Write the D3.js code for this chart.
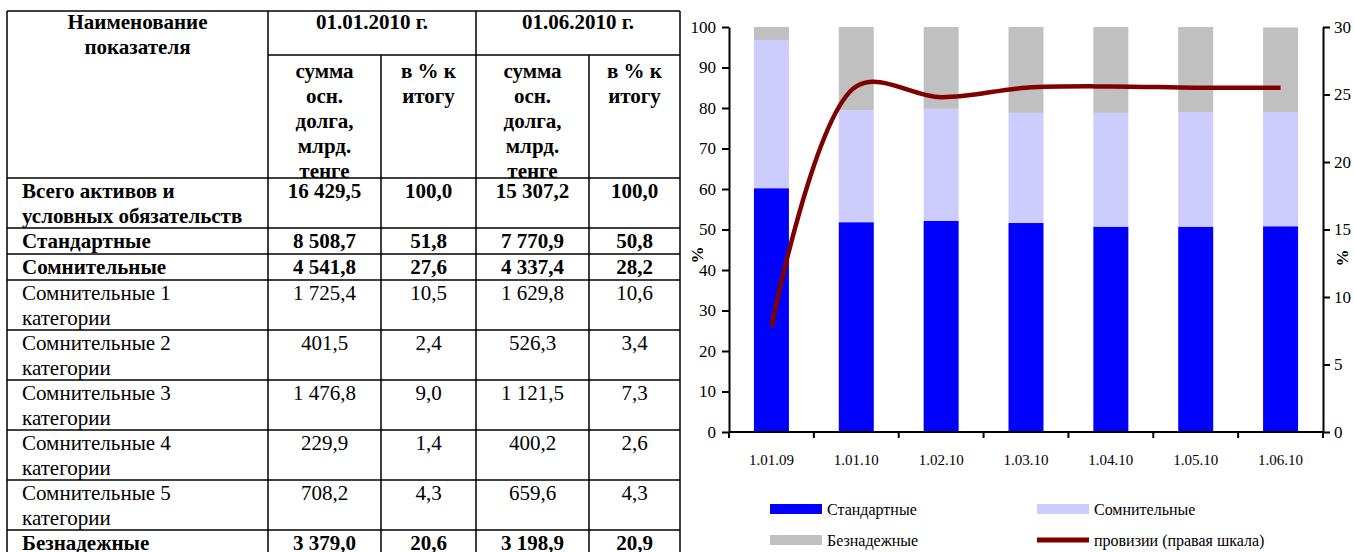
<!DOCTYPE html>
<html lang="ru">
  <head>
    <meta charset="UTF-8" />
    <title>Качество ссудного портфеля</title>
    <script src="https://d3js.org/d3.v7.min.js"></script>
    <style>
      body {
        margin: 0;
        background: #fff;
        font-family: 'Liberation Serif', 'Times New Roman', serif;
      }
      .cell {
        font-size: 21px;
        fill: #000;
      }
      .bold {
        font-weight: bold;
      }
      .grid {
        stroke: #000;
        stroke-width: 1.5px;
      }
      .axis path,
      .axis line {
        stroke: #000;
        stroke-width: 2px;
      }
      .axis text {
        font-family: 'Liberation Serif', serif;
        font-size: 17px;
        fill: #000;
      }
      .xlabels text {
        font-size: 15px;
      }
      .legend text {
        font-size: 16px;
      }
    </style>
  </head>
  <body>
    <svg id="chart" width="1354" height="552"></svg>
    <script>
      // ---- table data ----
      const tableDates = ['01.01.2010 г.', '01.06.2010 г.'];
      const headName = ['Наименование', 'показателя'];
      const headSum = ['сумма', 'осн.', 'долга,', 'млрд.', 'тенге'];
      const headPct = ['в % к', 'итогу'];
      const rowNames = [
        ['Всего активов и', 'условных обязательств'],
        ['Стандартные'],
        ['Сомнительные'],
        ['Сомнительные 1', 'категории'],
        ['Сомнительные 2', 'категории'],
        ['Сомнительные 3', 'категории'],
        ['Сомнительные 4', 'категории'],
        ['Сомнительные 5', 'категории'],
        ['Безнадежные'],
      ];
      const rowBold = [true, true, true, false, false, false, false, false, true];
      const sum2010_01 = ['16 429,5', '8 508,7', '4 541,8', '1 725,4', '401,5', '1 476,8', '229,9', '708,2', '3 379,0'];
      const pct2010_01 = ['100,0', '51,8', '27,6', '10,5', '2,4', '9,0', '1,4', '4,3', '20,6'];
      const sum2010_06 = ['15 307,2', '7 770,9', '4 337,4', '1 629,8', '526,3', '1 121,5', '400,2', '659,6', '3 198,9'];
      const pct2010_06 = ['100,0', '50,8', '28,2', '10,6', '3,4', '7,3', '2,6', '4,3', '20,9'];

      // ---- chart data ----
      const dates = ['1.01.09', '1.01.10', '1.02.10', '1.03.10', '1.04.10', '1.05.10', '1.06.10'];
      const standard = [60.2, 51.8, 52.1, 51.6, 50.7, 50.7, 50.8];
      const doubtful = [36.6, 27.6, 27.7, 27.2, 28.1, 28.3, 28.2];
      const hopeless = [3.2, 20.6, 20.2, 21.2, 21.2, 21.0, 20.9];
      const provisions = [7.8, 25.6, 24.8, 25.5, 25.6, 25.5, 25.5];
      const seriesNames = ['Стандартные', 'Сомнительные', 'Безнадежные'];
      const seriesColors = ['#0000ff', '#ccccff', '#c0c0c0'];
      const lineName = 'провизии (правая шкала)';
      const lineColor = '#800000';

      const svg = d3.select('#chart');

      // ================= table =================
      const colX = [7, 268, 381, 476, 589, 680];
      const tTop = 11,
        tMid = 55,
        tHead = 178;
      const rowH = rowNames.map((r) => (r.length > 1 ? 50 : 26));
      const rowY = [tHead];
      rowH.forEach((h, i) => rowY.push(rowY[i] + h));

      const tbl = svg.append('g');
      const lh = 25;

      // header texts
      const mid = (a, b) => (colX[a] + colX[b]) / 2;
      headName.forEach((t, i) => {
        tbl.append('text').attr('class', 'cell bold').attr('x', mid(0, 1))
          .attr('y', tTop + 18 + i * lh).attr('text-anchor', 'middle').text(t);
      });
      tableDates.forEach((t, k) => {
        tbl.append('text').attr('class', 'cell bold').attr('x', mid(1 + 2 * k, 3 + 2 * k))
          .attr('y', tTop + 18).attr('text-anchor', 'middle').text(t);
        headSum.forEach((s, i) => {
          tbl.append('text').attr('class', 'cell bold').attr('x', mid(1 + 2 * k, 2 + 2 * k))
            .attr('y', tMid + 23 + i * lh).attr('text-anchor', 'middle').text(s);
        });
        headPct.forEach((s, i) => {
          tbl.append('text').attr('class', 'cell bold').attr('x', mid(2 + 2 * k, 3 + 2 * k))
            .attr('y', tMid + 23 + i * lh).attr('text-anchor', 'middle').text(s);
        });
      });

      // body
      const cols = [sum2010_01, pct2010_01, sum2010_06, pct2010_06];
      rowNames.forEach((lines, r) => {
        const y0 = rowY[r] + 20;
        lines.forEach((t, i) => {
          tbl.append('text').attr('class', 'cell' + (rowBold[r] ? ' bold' : ''))
            .attr('x', colX[0] + 15).attr('y', y0 + i * lh).text(t);
        });
        cols.forEach((c, j) => {
          tbl.append('text').attr('class', 'cell' + (rowBold[r] ? ' bold' : ''))
            .attr('x', mid(j + 1, j + 2)).attr('y', y0)
            .attr('text-anchor', 'middle').text(c[r]);
        });
      });

      // grid lines
      const tBottom = rowY[rowY.length - 1];
      [tTop, tHead, ...rowY.slice(1)].forEach((yy) => {
        tbl.append('line').attr('class', 'grid').attr('x1', colX[0]).attr('x2', colX[5])
          .attr('y1', yy).attr('y2', yy);
      });
      tbl.append('line').attr('class', 'grid').attr('x1', colX[1]).attr('x2', colX[5])
        .attr('y1', tMid).attr('y2', tMid);
      colX.forEach((xx, i) => {
        const y1 = i === 2 || i === 4 ? tMid : tTop;
        tbl.append('line').attr('class', 'grid').attr('x1', xx).attr('x2', xx)
          .attr('y1', y1).attr('y2', tBottom);
      });

      // ================= chart =================
      const plotLeft = 729,
        plotRight = 1323,
        plotTop = 27,
        plotBase = 432;

      const x = d3.scaleBand().domain(dates).range([plotLeft, plotRight])
        .paddingInner(0.5876).paddingOuter(0.2938);
      const y = d3.scaleLinear().domain([0, 100]).range([plotBase, plotTop]);
      const yR = d3.scaleLinear().domain([0, 30]).range([plotBase, plotTop]);

      const stackData = dates.map((d, i) => ({
        date: d,
        [seriesNames[0]]: standard[i],
        [seriesNames[1]]: doubtful[i],
        [seriesNames[2]]: hopeless[i],
      }));
      const stacked = d3.stack().keys(seriesNames)(stackData);

      svg.append('g').selectAll('g').data(stacked).join('g')
        .attr('fill', (d, i) => seriesColors[i])
        .selectAll('rect').data((d) => d).join('rect')
        .attr('x', (d) => x(d.data.date))
        .attr('width', x.bandwidth())
        .attr('y', (d) => y(d[1]))
        .attr('height', (d) => y(d[0]) - y(d[1]));

      // provisions line
      const line = d3.line()
        .x((d, i) => x(dates[i]) + x.bandwidth() / 2)
        .y((d) => yR(d))
        .curve(d3.curveCatmullRom.alpha(0.5));
      svg.append('path').datum(provisions)
        .attr('fill', 'none').attr('stroke', lineColor)
        .attr('stroke-width', 4.5).attr('d', line);

      // axes
      svg.append('g').attr('class', 'axis')
        .attr('transform', `translate(${plotLeft},0)`)
        .call(d3.axisLeft(y).tickValues(d3.range(0, 101, 10)).tickSize(7).tickSizeOuter(0).tickPadding(6));
      svg.append('g').attr('class', 'axis')
        .attr('transform', `translate(${plotRight},0)`)
        .call(d3.axisRight(yR).tickValues(d3.range(0, 31, 5)).tickSize(7).tickSizeOuter(0).tickPadding(4));

      // x axis: line + ticks at band boundaries
      const gX = svg.append('g').attr('class', 'axis');
      gX.append('line').attr('x1', plotLeft).attr('x2', plotRight).attr('y1', plotBase).attr('y2', plotBase);
      const bounds = dates.map((d) => x(d) - (x.step() - x.bandwidth()) / 2);
      bounds.push(plotRight);
      gX.selectAll('.tk').data(bounds).join('line').attr('class', 'tk')
        .attr('x1', (d) => d).attr('x2', (d) => d).attr('y1', plotBase).attr('y2', plotBase + 6);
      const gXL = svg.append('g').attr('class', 'axis xlabels');
      gXL.selectAll('text').data(dates).join('text')
        .attr('x', (d) => x(d) + x.bandwidth() / 2).attr('y', plotBase + 33)
        .attr('text-anchor', 'middle').text((d) => d);

      // axis titles
      svg.append('text').attr('transform', `translate(703,255) rotate(-90)`)
        .attr('text-anchor', 'middle').style('font-size', '17px').style('font-weight', 'bold').text('%');
      svg.append('text').attr('transform', `translate(1348,258) rotate(-90)`)
        .attr('text-anchor', 'middle').style('font-size', '17px').style('font-weight', 'bold').text('%');

      // legend
      const legendItems = [
        { name: seriesNames[0], color: seriesColors[0], type: 'rect' },
        { name: seriesNames[1], color: seriesColors[1], type: 'rect' },
        { name: seriesNames[2], color: seriesColors[2], type: 'rect' },
        { name: lineName, color: lineColor, type: 'line' },
      ];
      const lg = svg.append('g').attr('class', 'legend');
      const li = lg.selectAll('g').data(legendItems).join('g')
        .attr('transform', (d, i) => `translate(${i % 2 ? 1037 : 770},${i < 2 ? 509 : 540})`);
      li.append('rect').attr('x', 0).attr('width', 52)
        .attr('y', (d) => (d.type === 'line' ? -2.5 : -5))
        .attr('height', (d) => (d.type === 'line' ? 5 : 10))
        .attr('fill', (d) => d.color);
      li.append('text').attr('x', 57).attr('y', 6).text((d) => d.name);
    </script>
  </body>
</html>
